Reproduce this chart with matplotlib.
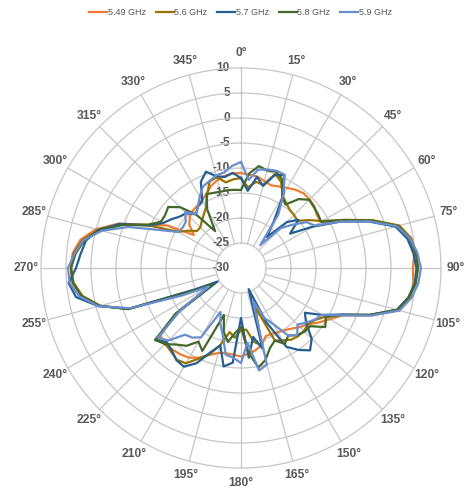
import numpy as np
import matplotlib.pyplot as plt
from matplotlib.transforms import offset_copy

plt.rcParams['font.family'] = ['Liberation Sans', 'DejaVu Sans']

# angle of each sample (deg), measured clockwise from the top
angles = np.arange(0, 360, 5)

f549 = [-11, -11.3, -11.4, -12, -12.4, -12, -11.5, -10.9, -10.5, -10.6, -10.8, -11.5,
        -11.5, -7.5, -2.2, 2.6, 4.6, 4.8, 4.4, 4.6, 4.4, 2.8, -2.4, -7.6,
        -9.5, -11, -12.5, -13.3, -14.2, -14.8, -15.2, -15.5, -15.5, -14, -13.3, -12.8,
        -12.3, -12.6, -12.7, -12.4, -11.5, -10.2, -9.3, -8.9, -8.7, -8.4, -9, -14,
        -23, -19, -6, -0.8, 2.2, 3.8, 4.0, 3.8, 2.6, 0, -4, -9.5,
        -13, -18.5, -16.5, -15.5, -15, -14.8, -14.4, -13.6, -12.5, -11.8, -11.3, -11]
f56 = [-12, -13.8, -12.5, -12.8, -10, -11, -13.3, -14.2, -14.8, -15, -15.3, -13.3,
       -11.2, -7.2, -2, 2.8, 4.5, 5.2, 5.4, 5.0, 4.0, 2.3, -2.6, -7.8,
       -10.5, -11.9, -12.5, -12.2, -12.2, -12.5, -13.3, -14, -21.7, -14, -15, -17.6,
       -17.6, -16, -17, -14, -11.7, -10, -8, -7.6, -8.2, -8.6, -8, -14,
       -23.5, -19, -6, -0.8, 2.2, 3.6, 4.0, 3.6, 2.2, -0.5, -4.5, -10,
       -15.5, -17, -18.5, -18.5, -17.8, -17, -16, -14, -11.6, -11.2, -12.6, -12.2]
f57 = [-12, -14.5, -11.5, -13, -10.2, -9.5, -13, -18.5, -21.9, -17, -15, -18,
       -13.5, -8, -2.8, 2, 3.8, 4.6, 5.1, 4.9, 4.0, 2.3, -2.6, -8,
       -11.2, -14.4, -13, -10, -8.5, -10, -11.8, -18, -25.5, -13.3, -16, -12,
       -20, -11, -10, -14, -12, -9, -7.2, -7.5, -8.5, -9, -7.6, -15,
       -24.6, -20, -6.2, -0.5, 3.5, 4.6, 3, 2.2, 1.5, -0.5, -4.2, -9.8,
       -12, -13, -14, -14.5, -16, -15, -14.5, -11, -9.5, -11, -11.5, -10.9]
f58 = [-14.4, -11, -9.3, -9.8, -9.5, -10.5, -13.5, -14.5, -12, -10.7, -11, -11.2,
       -11.5, -7.4, -2.3, 2.5, 4.2, 5.1, 5.4, 5.1, 4.1, 2.4, -2.5, -7.8,
       -10.4, -9.4, -11.9, -12, -12.5, -13.5, -12.5, -14, -13, -11, -9.8, -13,
       -18.2, -17, -15, -16.7, -20, -11.7, -13, -11, -10, -8.5, -7.6, -14,
       -23.5, -19, -6, -0.8, 2.4, 3.8, 4.0, 3.2, 1.8, -0.8, -4.8, -9.5,
       -11.5, -11.5, -11, -12.8, -16, -21, -16.5, -13.7, -14, -14.2, -14.2, -14.3]
f59 = [-8.8, -12.3, -10, -9.6, -9.3, -9.4, -13, -17, -24, -18.7, -16.5, -14,
       -13, -8, -2.7, 2.3, 4.3, 5.4, 6.0, 5.6, 4.6, 2.8, -2.2, -7.6,
       -11.3, -12, -13, -14, -12.5, -13.5, -17, -19, -23, -10, -9.2, -15,
       -11, -12, -12.4, -16, -18, -20.3, -14, -13, -12.6, -9.5, -8.3, -15,
       -22.6, -17, -6.5, -0.5, 2.8, 4.4, 4.6, 3.4, 2.0, -1.2, -6, -12,
       -15.6, -15.8, -15.6, -14.2, -15.9, -15, -13.5, -12, -11.5, -10.8, -10.6, -9.5]

series = [("5.49 GHz", f549, "#ED7D31"),
          ("5.6 GHz", f56, "#997300"),
          ("5.7 GHz", f57, "#255E91"),
          ("5.8 GHz", f58, "#43682B"),
          ("5.9 GHz", f59, "#698ED0")]

grid_c = "#C6C6C6"
txt_c = "#595959"

fig = plt.figure(figsize=(4.76, 4.95), dpi=100)
ax = fig.add_axes([0.0861, 0.0545, 0.8403, 0.8081], projection='polar')
ax.set_theta_zero_location('N')
ax.set_theta_direction(-1)
ax.set_ylim(-30, 10)

# circles
ax.set_yticks(range(-25, 10, 5))
ax.set_yticklabels([])
ax.yaxis.grid(True, color=grid_c, lw=0.9)
ax.spines['polar'].set_color(grid_c)
ax.spines['polar'].set_linewidth(0.9)

# spokes stop at the inner circle
ax.xaxis.grid(False)
th_ticks = np.arange(0, 360, 15)
for t in th_ticks:
    ax.plot([np.deg2rad(t)] * 2, [-25, 10], color=grid_c, lw=0.9, zorder=0.5)
ax.set_xticks(np.deg2rad(th_ticks))
ax.set_xticklabels([f"{t}°" for t in th_ticks], fontsize=8.7, fontweight='bold', color=txt_c)
ax.tick_params(axis='x', pad=0)

# radial labels, left of the 0 deg spoke
tr = offset_copy(ax.transData, fig=fig, x=-11, y=0, units='dots')
for r in range(-30, 11, 5):
    ax.text(0, r, str(r), transform=tr, ha='right', va='center',
            fontsize=8.5, fontweight='bold', color=txt_c, zorder=1)

th = np.deg2rad(np.append(angles, 360))
for name, vals, col in series:
    v = np.append(vals, vals[0])
    ax.plot(th, v, color=col, lw=1.6, label=name, zorder=3)

leg = fig.legend(loc='center', bbox_to_anchor=(0.505, 0.975), ncol=5, frameon=False,
                 fontsize=6.5, handlelength=2.0, handletextpad=0.05, columnspacing=1.1,
                 labelcolor=txt_c)

fig.savefig("out.png", dpi=100)
